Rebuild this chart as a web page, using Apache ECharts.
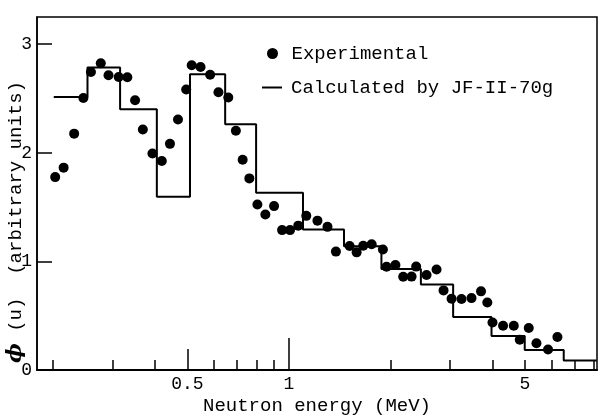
<!DOCTYPE html>
<html>
<head>
<meta charset="utf-8">
<script src="https://cdn.jsdelivr.net/npm/echarts@6/dist/echarts.min.js"></script>
<style>
  html, body { margin: 0; padding: 0; background: #fff; }
  #chart { width: 605px; height: 417px; }
</style>
</head>
<body>
<div id="chart"></div>
<script>
  // 实验值 (MeV, 任意单位)
  var expEnergy = [0.203, 0.215, 0.231, 0.246, 0.259, 0.277, 0.292, 0.313, 0.332, 0.350,
    0.369, 0.394, 0.420, 0.444, 0.469, 0.496, 0.515, 0.547, 0.584, 0.618,
    0.661, 0.696, 0.729, 0.763, 0.806, 0.851, 0.903, 0.954, 1.007, 1.065,
    1.125, 1.214, 1.300, 1.377, 1.512, 1.586, 1.659, 1.757, 1.897, 1.945,
    2.066, 2.179, 2.307, 2.380, 2.555, 2.735, 2.869, 3.030, 3.243, 3.471,
    3.704, 3.867, 4.006, 4.305, 4.632, 4.825, 5.129, 5.406, 5.851, 6.237];
  var expFlux = [1.776, 1.863, 2.176, 2.504, 2.744, 2.824, 2.714, 2.698, 2.695, 2.484,
    2.215, 1.994, 1.925, 2.082, 2.306, 2.582, 2.806, 2.790, 2.718, 2.557,
    2.509, 2.203, 1.935, 1.764, 1.523, 1.432, 1.509, 1.288, 1.288, 1.329,
    1.419, 1.375, 1.318, 1.090, 1.141, 1.083, 1.144, 1.157, 1.109, 0.950,
    0.966, 0.858, 0.860, 0.952, 0.874, 0.926, 0.733, 0.656, 0.653, 0.662,
    0.724, 0.621, 0.437, 0.407, 0.407, 0.279, 0.386, 0.246, 0.189, 0.304];

  // JF-II-70g 群边界和群通量
  var groupEdges = [0.201, 0.253, 0.316, 0.406, 0.509, 0.647, 0.799, 1.10, 1.455, 1.878,
    2.458, 3.063, 3.979, 4.991, 6.511, 8.15];
  var groupFlux = [2.514, 2.785, 2.401, 1.594, 2.723, 2.263, 1.631, 1.294, 1.14, 0.93,
    0.787, 0.488, 0.313, 0.184, 0.087];

  // 坐标轴刻度
  var xMinorTicks = [0.2, 0.3, 0.4, 0.6, 0.7, 0.8, 0.9, 2, 3, 4, 5, 6, 7, 8];
  var xMidTicks = [0.5];
  var xMajorTicks = [1];
  var xLabels = [0.5, 1, 5];
  var yTicks = [0, 1, 2, 3];

  var FONT = "Liberation Mono";
  var XMIN = 0.1793, XMAX = 8.17;

  var scatterData = expEnergy.map(function (e, i) { return [e, expFlux[i]]; });
  var stepData = groupEdges.map(function (e, i) {
    var v = i < groupFlux.length ? groupFlux[i] : groupFlux[groupFlux.length - 1];
    return [e, v];
  });

  function tickAxis(values, len) {
    return {
      type: "log", logBase: 10, min: XMIN, max: XMAX, position: "bottom",
      axisLine: { show: false },
      axisTick: { show: true, inside: true, length: len, customValues: values,
        lineStyle: { color: "#000", width: 1.5 } },
      axisLabel: { show: false },
      splitLine: { show: false }
    };
  }

  var legendText = { fontFamily: FONT, fontSize: 19, color: "#000", padding: [0, 0, 0, 4] };

  var myChart = echarts.init(document.getElementById("chart"));
  var option = {
    animation: false,
    backgroundColor: "#fff",
    grid: { left: 37, right: 8, top: 17, bottom: 47, outerBoundsMode: "none", containLabel: false,
      show: true, borderColor: "#000", borderWidth: 1.5, backgroundColor: "transparent" },
    legend: [
      {
        data: ["Experimental"],
        left: 262, top: 39, itemWidth: 20, itemHeight: 11,
        textStyle: legendText
      },
      {
        data: [{ name: "Calculated by JF-II-70g", icon: "rect" }],
        left: 257, top: 73, itemWidth: 20, itemHeight: 2,
        textStyle: legendText
      }
    ],
    xAxis: [
      {
        type: "log", logBase: 10, min: XMIN, max: XMAX, position: "bottom",
        name: "Neutron energy (MeV)", nameLocation: "middle", nameGap: 26,
        nameMoveOverlap: false,
        nameTextStyle: { fontFamily: FONT, fontSize: 19, color: "#000" },
        axisLine: { lineStyle: { color: "#000", width: 2 } },
        axisTick: { inside: true, length: 10, customValues: xMinorTicks,
          lineStyle: { color: "#000", width: 1.5 } },
        axisLabel: { customValues: xLabels, margin: 5,
          fontFamily: FONT, fontSize: 18, color: "#000" },
        splitLine: { show: false }
      },
      tickAxis(xMidTicks, 21),
      tickAxis(xMajorTicks, 32)
    ],
    yAxis: {
      type: "value", min: 0, max: 3.25,
      name: "{phi|ϕ} (u)  (arbitrary units)     ", nameLocation: "middle", nameGap: 11,
      nameMoveOverlap: false,
      nameTextStyle: { fontFamily: FONT, fontSize: 19, color: "#000",
        rich: { phi: { fontFamily: "DejaVu Serif", fontWeight: "bold", fontStyle: "italic", fontSize: 21, color: "#000" } } },
      axisLine: { lineStyle: { color: "#000", width: 1.5 } },
      axisTick: { inside: true, length: 15, customValues: yTicks,
        lineStyle: { color: "#000", width: 1.5 } },
      axisLabel: { customValues: yTicks, margin: 5,
        fontFamily: FONT, fontSize: 18, color: "#000" },
      splitLine: { show: false }
    },
    series: [
      {
        name: "Experimental", type: "scatter", data: scatterData,
        symbol: "circle", symbolSize: 10,
        itemStyle: { color: "#000", opacity: 1 }
      },
      {
        name: "Calculated by JF-II-70g", type: "line", step: "end", data: stepData,
        symbol: "none", showSymbol: false,
        lineStyle: { color: "#000", width: 2 },
        itemStyle: { color: "#000" }
      }
    ]
  };
  myChart.setOption(option);
</script>
</body>
</html>
